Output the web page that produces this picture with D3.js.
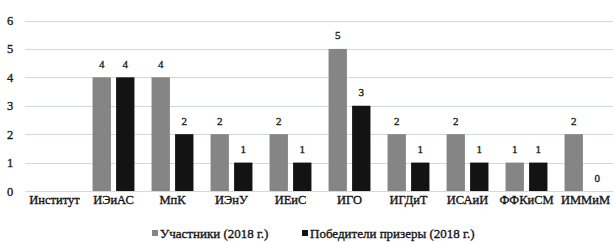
<!DOCTYPE html>
<html>
<head>
<meta charset="utf-8">
<script src="https://cdn.jsdelivr.net/npm/d3@7"></script>
<style>
  body { margin: 0; background: #fff; }
  svg text { font-family: "Liberation Serif", "Times New Roman", serif; fill: #1a1a1a; }
</style>
</head>
<body>
<div id="chart"></div>
<script>
// data
const categories = ['Институт', 'ИЭиАС', 'МпК', 'ИЭнУ', 'ИЕиС', 'ИГО', 'ИГДиТ', 'ИСАиИ', 'ФФКиСМ', 'ИММиМ'];
const participants = [null, 4, 4, 2, 2, 5, 2, 2, 1, 2];
const winners = [null, 4, 2, 1, 1, 3, 1, 1, 1, 0];
const seriesNames = ['Участники (2018 г.)', 'Победители призеры (2018 г.)'];
const yTicks = [0, 1, 2, 3, 4, 5, 6];

const width = 613, height = 242;
const colors = ['#858585', '#131313'];
const labelFont = 12.5;

let svg = d3.select('#chart').append('svg')
  .attr('width', width)
  .attr('height', height);

let x0 = d3.scaleBand()
  .domain(categories)
  .range([25, 615])
  .paddingInner(0.29)
  .paddingOuter(0.145);

let x1 = d3.scaleBand()
  .domain([0, 1])
  .range([0, x0.bandwidth()])
  .paddingInner(0.22);

let y = d3.scaleLinear()
  .domain([0, 6])
  .range([191, 20.5]);

// gridlines
svg.append('g')
  .selectAll('line')
  .data(yTicks)
  .join('line')
  .attr('x1', 25)
  .attr('x2', width)
  .attr('y1', d => Math.round(y(d)) + 0.5)
  .attr('y2', d => Math.round(y(d)) + 0.5)
  .attr('stroke', '#d3d8de')
  .attr('stroke-width', 1);

function medium(sel, color) {
  sel.attr('fill', color)
    .attr('stroke', color)
    .attr('stroke-width', 0.35);
}

// y axis labels
let yAxis = d3.axisLeft(y).tickValues(yTicks).tickFormat(d3.format('d')).tickSize(0).tickPadding(0);
let yg = svg.append('g')
  .attr('transform', 'translate(10,0)')
  .call(yAxis);
yg.select('.domain').remove();
yg.selectAll('text')
  .attr('text-anchor', 'middle')
  .attr('font-family', '"Liberation Serif", serif')
  .attr('font-size', labelFont)
  .call(medium, '#222');

// x axis labels
let xAxis = d3.axisBottom(x0).tickSize(0).tickPadding(0);
let xg = svg.append('g')
  .attr('transform', 'translate(0,195)')
  .call(xAxis);
xg.select('.domain').remove();
xg.selectAll('text')
  .attr('font-family', '"Liberation Serif", serif')
  .attr('font-size', labelFont)
  .call(medium, '#111');

const allSeries = [participants, winners];

let groups = svg.append('g')
  .selectAll('g')
  .data(categories)
  .join('g')
  .attr('transform', d => 'translate(' + x0(d) + ',0)');

groups.selectAll('rect')
  .data((d, i) => allSeries.map((s, k) => ({k, v: s[i]})).filter(o => o.v !== null))
  .join('rect')
  .attr('x', o => x1(o.k))
  .attr('width', x1.bandwidth())
  .attr('y', o => y(o.v))
  .attr('height', o => y(0) - y(o.v))
  .attr('fill', o => colors[o.k]);

groups.selectAll('text')
  .data((d, i) => allSeries.map((s, k) => ({k, v: s[i]})).filter(o => o.v !== null))
  .join('text')
  .attr('x', o => x1(o.k) + x1.bandwidth() / 2)
  .attr('y', o => y(o.v) - 9.5)
  .attr('text-anchor', 'middle')
  .attr('font-size', 11)
  .call(medium, '#222')
  .text(o => o.v);

// legend
let legendX = [152, 302];
let legend = svg.append('g')
  .selectAll('g')
  .data(seriesNames)
  .join('g')
  .attr('transform', (d, i) => 'translate(' + legendX[i] + ',233)');
legend.append('rect')
  .attr('x', 0)
  .attr('y', -3)
  .attr('width', 6)
  .attr('height', 6)
  .attr('fill', (d, i) => colors[i]);
legend.append('text')
  .attr('x', 8)
  .attr('y', 4.5)
  .attr('font-size', 13)
  .call(medium, '#111')
  .text(d => d);
</script>
</body>
</html>
